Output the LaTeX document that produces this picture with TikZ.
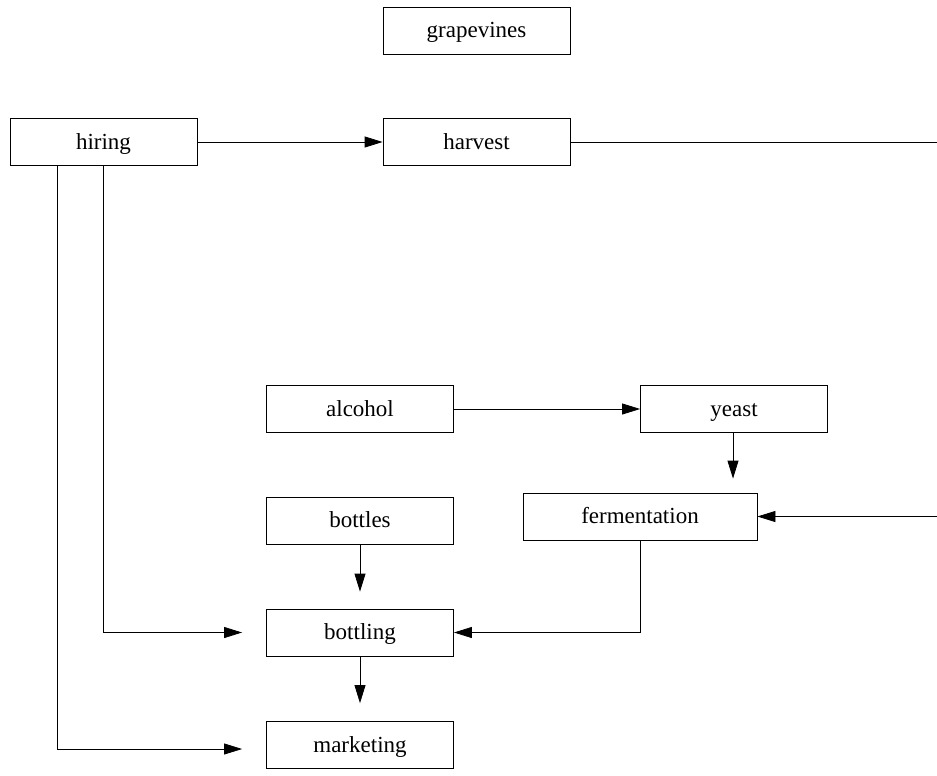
\documentclass[tikz,border=0pt]{standalone}
\usepackage{fontspec}
\setmainfont{Liberation Serif}
\usetikzlibrary{arrows.meta,calc}
\begin{document}
\begin{tikzpicture}[x=1pt,y=-1pt,
  box/.style={draw=black, line width=0.8pt, minimum width=187pt, minimum height=47pt, inner sep=0pt, text height=16pt, text depth=2pt, font=\fontsize{23}{27}\selectfont},
  conn/.style={line width=0.8pt, -{Triangle[length=18pt,width=11pt]}},
  plain/.style={line width=0.8pt}]
\useasboundingbox (0,0) rectangle (937,776);
\fill[white] (0,0) rectangle (937,776);
\node[box] (grapevines) at (476.5,31) {grapevines};
\node[box] (hiring) at (103.5,142) {hiring};
\node[box] (harvest) at (476.5,142) {harvest};
\node[box] (alcohol) at (360,409) {alcohol};
\node[box] (yeast) at (734,409) {yeast};
\node[box, minimum width=234pt] (fermentation) at (640,516.5) {fermentation};
\node[box] (bottles) at (360,520.5) {bottles};
\node[box] (bottling) at (360,632.5) {bottling};
\node[box] (marketing) at (360,745) {marketing};
\coordinate (rtop) at (945,142);
\coordinate (rbot) at (945,516.5);
\draw[conn] (hiring) -- (harvest);
\draw[conn] (harvest.east) -- (rtop) -- (rbot) -- (fermentation.east);
\draw[conn] (alcohol) -- (yeast);
\draw[conn, shorten >=14pt] (yeast.south -| 733,0) -- (fermentation.north -| 733,0);
\draw[conn, shorten >=17pt] (bottles) -- (bottling);
\draw[conn, shorten >=18pt] (bottling) -- (marketing);
\draw[conn] (fermentation.south) |- (bottling.east);
\draw[conn, shorten >=24pt] (hiring.south) |- (bottling.west);
\draw[conn, shorten >=24pt] ([xshift=-46.5pt]hiring.south) |- ([yshift=-4pt]marketing.west);
\end{tikzpicture}
\end{document}
